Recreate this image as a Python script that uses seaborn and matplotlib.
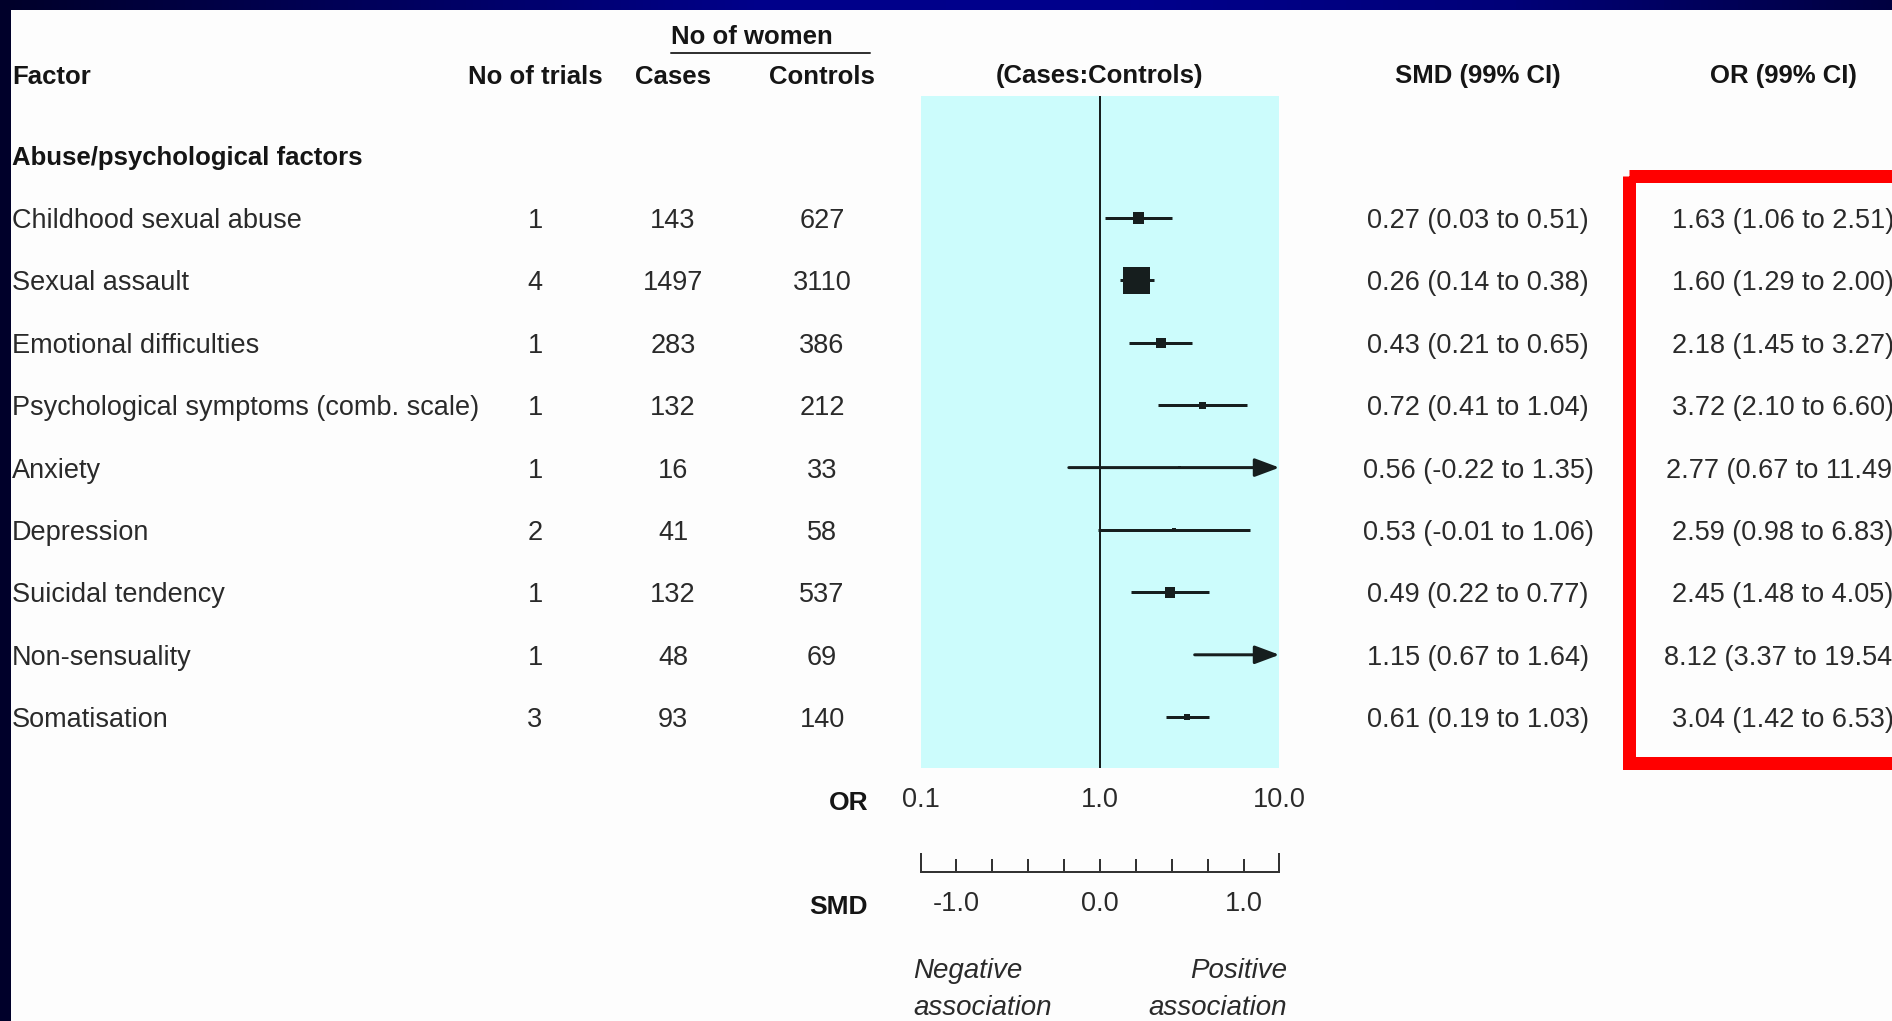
import numpy as np
import pandas as pd
import seaborn as sns
import matplotlib.pyplot as plt
import matplotlib.transforms as mtransforms
from matplotlib.colors import LinearSegmentedColormap
from matplotlib.patches import Rectangle
from matplotlib.ticker import NullLocator

# --- Data ---
factors = [
    "Childhood sexual abuse", "Sexual assault", "Emotional difficulties",
    "Psychological symptoms (comb. scale)", "Anxiety", "Depression",
    "Suicidal tendency", "Non-sensuality", "Somatisation",
]
n_trials = [1, 4, 1, 1, 1, 2, 1, 1, 3]
cases = [143, 1497, 283, 132, 16, 41, 132, 48, 93]
controls = [627, 3110, 386, 212, 33, 58, 537, 69, 140]
smd = [0.27, 0.26, 0.43, 0.72, 0.56, 0.53, 0.49, 1.15, 0.61]
smd_lo = [0.03, 0.14, 0.21, 0.41, -0.22, -0.01, 0.22, 0.67, 0.19]
smd_hi = [0.51, 0.38, 0.65, 1.04, 1.35, 1.06, 0.77, 1.64, 1.03]
or_est = [1.63, 1.60, 2.18, 3.72, 2.77, 2.59, 2.45, 8.12, 3.04]
or_lo = [1.06, 1.29, 1.45, 2.10, 0.67, 0.98, 1.48, 3.37, 1.42]
or_hi = [2.51, 2.00, 3.27, 6.60, 11.49, 6.83, 4.05, 19.54, 6.53]
# whiskers as drawn in the figure (somatisation bar is narrower than its text)
bar_lo = [1.06, 1.29, 1.45, 2.10, 0.67, 0.98, 1.48, 3.37, 2.33]
bar_hi = [2.51, 2.00, 3.27, 6.60, 11.49, 6.83, 4.05, 19.54, 4.06]

or_ticks = [0.1, 1.0, 10.0]
or_tick_labels = ["0.1", "1.0", "10.0"]
smd_ticks = [-1.0, 0.0, 1.0]
smd_tick_labels = ["-1.0", "0.0", "1.0"]

# --- Layout (figure pixels) ---
W, H, DPI = 1892, 1021, 100
PT = 72 / DPI                      # points per pixel
PANEL_X0, PANEL_X1 = 920.6, 1279.4
PANEL_Y0, PANEL_Y1 = 96, 768
ROW0, ROW_STEP = 218, 62.4
INK = '#161e1e'
TXT = '#2a2a2a'
HEAD = '#151515'
AXC = '#333333'

sns.set_theme(style="white")
FONT = ['Liberation Sans', 'DejaVu Sans']
plt.rcParams['font.family'] = FONT


def fig_box(x0, y0, x1, y1):
    return [x0 / W, 1 - y1 / H, (x1 - x0) / W, (y1 - y0) / H]


fig = plt.figure(figsize=(W / DPI, H / DPI), dpi=DPI)

# slide background: navy frame with white content area
bg = fig.add_axes([0, 0, 1, 1], zorder=0)
bg.set_xlim(0, W)
bg.set_ylim(H, 0)
bg.axis('off')
slide = LinearSegmentedColormap.from_list(
    'slide', ['#00002a', '#00005c', '#00008a', '#00008c', '#000078', '#000040'])
bg.imshow(np.linspace(0, 1, 256)[None, :], cmap=slide, aspect='auto',
          extent=(0, W, H, 0))
bg.add_patch(Rectangle((11, 10), W, H, facecolor='#fdfdfd', edgecolor='none'))

# --- Forest panel ---
df = pd.DataFrame({
    'row': np.arange(len(factors)),
    'or_est': or_est,
    'lo': bar_lo,
    'hi': bar_hi,
    'n': np.array(cases) + np.array(controls),
})

ax = fig.add_axes(fig_box(PANEL_X0, PANEL_Y0, PANEL_X1, PANEL_Y1), zorder=2)
ax.set_xscale('log')
xmin, xmax = 0.1, 10.0
ax.set_facecolor('#ccfcfc')
for s in ax.spines.values():
    s.set_visible(False)

ax.axvline(1.0, color=INK, lw=2 * PT, zorder=2)

inside = df['hi'] <= xmax
ax.hlines(df.loc[inside, 'row'], df.loc[inside, 'lo'], df.loc[inside, 'hi'],
          color=INK, lw=3 * PT, zorder=3)
for _, r in df[~inside].iterrows():
    ax.annotate('', xy=(xmax, r['row']), xytext=(r['lo'], r['row']),
                arrowprops=dict(arrowstyle='-|>,head_length=0.75,head_width=0.28',
                                mutation_scale=20, color=INK, lw=3 * PT,
                                shrinkA=0, shrinkB=0),
                annotation_clip=False, zorder=3)

# square size proportional to number of women
sns.scatterplot(data=df, x='or_est', y='row', size='n',
                sizes=(0, 380), size_norm=(0, df['n'].max()),
                marker='s', color=INK, linewidth=0, legend=False,
                ax=ax, zorder=4)

ax.set_xlim(xmin, xmax)
ax.set_ylim((PANEL_Y1 - ROW0) / ROW_STEP, (PANEL_Y0 - ROW0) / ROW_STEP)
ax.set_xlabel('')
ax.set_ylabel('')
ax.set_yticks([])
ax.set_xticks(or_ticks, or_tick_labels)
ax.xaxis.set_minor_locator(NullLocator())
ax.tick_params(axis='x', bottom=True, length=0, pad=14, labelsize=19.5,
               colors=TXT)

# --- SMD scale under the panel ---
sx = fig.add_axes(fig_box(PANEL_X0, 850, PANEL_X1, 872), zorder=2)
sx.patch.set_alpha(0)
sx.set_xlim(-1.25, 1.25)
sx.set_yticks([])
for name in ['top', 'left', 'right']:
    sx.spines[name].set_visible(False)
sx.spines['bottom'].set_color(AXC)
sx.spines['bottom'].set_linewidth(2 * PT)
steps = np.round(np.arange(-1.0, 1.01, 0.25), 2)
step_labels = [smd_tick_labels[smd_ticks.index(v)] if v in smd_ticks else ''
               for v in steps]
sx.set_xticks(steps, step_labels)
sx.set_xticks([-1.25, 1.25], minor=True)
sx.tick_params(axis='x', which='both', bottom=True, direction='in',
               width=2 * PT, color=AXC)
sx.tick_params(axis='x', which='major', length=13 * PT, pad=14,
               labelsize=19.5, labelcolor=TXT)
sx.tick_params(axis='x', which='minor', length=19 * PT)

# --- Table text ---
rowtf = mtransforms.blended_transform_factory(bg.transData, ax.transData)
body = dict(fontsize=19.5, color=TXT, va='center_baseline', transform=rowtf)
for i in range(len(factors)):
    bg.text(12, i, factors[i], ha='left', **body)
    bg.text(535, i, str(n_trials[i]), ha='center', **body)
    bg.text(673, i, str(cases[i]), ha='center', **body)
    bg.text(822, i, str(controls[i]), ha='center', **body)
    bg.text(1478, i, f"{smd[i]:.2f} ({smd_lo[i]:.2f} to {smd_hi[i]:.2f})",
            ha='center', **body)
    bg.text(1783, i, f"{or_est[i]:.2f} ({or_lo[i]:.2f} to {or_hi[i]:.2f})",
            ha='center', **body)

head = dict(fontsize=18.5, fontweight='bold', color=HEAD, va='center_baseline')
bg.text(752, 35, "No of women", ha='center', **head)
bg.plot([671, 870], [53, 53], color=AXC, lw=2 * PT)
bg.text(12, 74, "Factor", ha='left', **head)
bg.text(535, 74, "No of trials", ha='center', **head)
bg.text(673, 74, "Cases", ha='center', **head)
bg.text(822, 74, "Controls", ha='center', **head)
bg.text(1099, 74, "(Cases:Controls)", ha='center', **head)
bg.text(1478, 74, "SMD (99% CI)", ha='center', **head)
bg.text(1783, 74, "OR (99% CI)", ha='center', **head)

bg.text(12, 156, "Abuse/psychological factors", ha='left', va='center_baseline',
        fontsize=18.5, fontweight='bold', color=HEAD)

bg.text(868, 800, "OR", ha='right', va='center_baseline', fontsize=19,
        fontweight='bold', color=HEAD)
bg.text(868, 904, "SMD", ha='right', va='center_baseline', fontsize=19,
        fontweight='bold', color=HEAD)

note = dict(fontsize=20, style='italic', color=TXT, va='center_baseline')
bg.text(913, 968, "Negative", ha='left', **note)
bg.text(913, 1005, "association", ha='left', **note)
bg.text(1287, 968, "Positive", ha='right', **note)
bg.text(1287, 1005, "association", ha='right', **note)

# red highlight round the OR column
bg.add_patch(Rectangle((1629, 176.5), 400, 586, fill=False,
                       edgecolor='#ff0000', lw=13 * PT, zorder=5))

fig.savefig('out.png', dpi=DPI)
plt.close(fig)
